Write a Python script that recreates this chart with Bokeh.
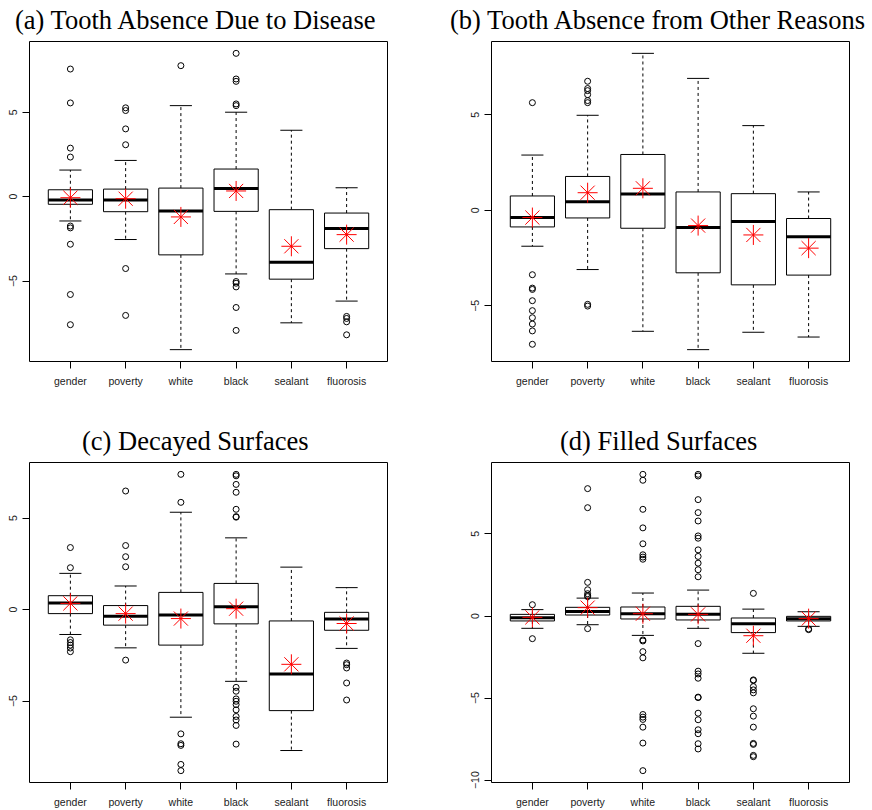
from bokeh.plotting import figure
from bokeh.models import Range1d, FixedTicker
from bokeh.layouts import column, row
from bokeh.embed import file_html
from bokeh.resources import INLINE

categories = ["gender", "poverty", "white", "black", "sealant", "fluorosis"]

# (a) Tooth Absence Due to Disease
a_title = "(a) Tooth Absence Due to Disease"
a_q1 = [-0.45, -0.89, -3.45, -0.87, -4.89, -3.08]
a_median = [-0.20, -0.20, -0.85, 0.49, -3.89, -1.89]
a_q3 = [0.41, 0.45, 0.51, 1.64, -0.77, -0.97]
a_whisker_lo = [-1.44, -2.54, -9.07, -4.58, -7.48, -6.19]
a_whisker_hi = [1.58, 2.15, 5.40, 5.01, 3.94, 0.53]
a_mean = [-0.06, -0.12, -1.20, 0.34, -2.94, -2.25]
a_outliers = [
    [7.57, 5.56, 2.88, 2.35, -1.74, -1.85, -2.82, -5.80, -7.59],
    [5.27, 5.11, 4.02, 3.08, -4.26, -7.04],
    [7.77],
    [8.50, 6.98, 6.84, 5.50, 5.40, -5.03, -5.13, -5.35, -6.57, -7.93],
    [],
    [-7.10, -7.22, -7.42, -8.19],
]
a_yticks = [-5, 0, 5]

# (b) Tooth Absence from Other Reasons
b_title = "(b) Tooth Absence from Other Reasons"
b_q1 = [-0.87, -0.40, -0.94, -3.27, -3.90, -3.39]
b_median = [-0.38, 0.45, 0.85, -0.90, -0.59, -1.39]
b_q3 = [0.75, 1.77, 2.92, 0.96, 0.87, -0.43]
b_whisker_lo = [-1.88, -3.10, -6.33, -7.29, -6.38, -6.63]
b_whisker_hi = [2.89, 4.97, 8.21, 6.90, 4.43, 0.96]
b_mean = [-0.38, 0.92, 1.15, -0.80, -1.29, -1.98]
b_outliers = [
    [5.63, -3.37, -4.07, -4.14, -4.73, -5.25, -5.62, -5.95, -6.31, -7.01],
    [6.75, 6.37, 6.26, 6.05, 5.74, 5.63, -4.92, -5.01],
    [],
    [],
    [],
    [],
]
b_yticks = [-5, 0, 5]

# (c) Decayed Surfaces
c_title = "(c) Decayed Surfaces"
c_q1 = [-0.22, -0.85, -1.94, -0.78, -5.52, -1.13]
c_median = [0.36, -0.36, -0.29, 0.16, -3.52, -0.51]
c_q3 = [0.76, 0.22, 0.94, 1.43, -0.62, -0.15]
c_whisker_lo = [-1.36, -2.09, -5.88, -3.92, -7.70, -2.12]
c_whisker_hi = [1.98, 1.29, 5.32, 3.92, 2.32, 1.20]
c_mean = [0.34, -0.22, -0.49, 0.05, -2.99, -0.76]
c_outliers = [
    [3.39, 2.29, -1.65, -1.80, -1.94, -2.10, -2.30],
    [6.48, 3.50, 2.89, 2.34, -2.76],
    [7.39, 5.86, -6.79, -7.33, -7.42, -8.46, -8.80],
    [7.39, 7.31, 6.84, 6.41, 5.48, 5.08, 5.05, -4.25, -4.46, -4.88, -5.01,
     -5.19, -5.48, -5.84, -6.03, -6.33, -7.35],
    [],
    [-2.92, -3.01, -3.19, -4.01, -4.94],
]
c_yticks = [-5, 0, 5]

# (d) Filled Surfaces
d_title = "(d) Filled Surfaces"
d_q1 = [-0.30, 0.06, -0.18, -0.24, -1.01, -0.30]
d_median = [-0.10, 0.28, 0.14, 0.10, -0.47, -0.16]
d_q3 = [0.10, 0.53, 0.55, 0.59, -0.12, -0.02]
d_whisker_lo = [-0.75, -0.53, -1.18, -0.75, -2.27, -0.63]
d_whisker_hi = [0.39, 1.09, 1.40, 1.58, 0.42, 0.26]
d_mean = [-0.08, 0.51, 0.14, 0.10, -1.20, -0.16]
d_outliers = [
    [0.69, -1.38],
    [7.76, 6.60, 2.05, 1.60, 1.36, 1.24, 1.18, -0.77],
    [8.63, 8.27, 6.50, 5.37, 4.40, 3.73, 3.59, 3.46, -1.46, -1.52, -2.17,
     -2.55, -6.00, -6.16, -6.30, -6.77, -7.74, -9.42],
    [8.63, 8.53, 7.09, 6.30, 5.79, 4.88, 4.74, 4.03, 3.63, 3.22, 2.82, 2.39,
     -1.68, -3.36, -3.53, -3.79, -4.94, -4.97, -5.92, -6.32, -6.93, -7.17,
     -7.78, -8.10],
    [1.38, -3.89, -3.93, -4.30, -4.50, -4.68, -5.65, -6.10, -6.77, -7.76,
     -7.82, -8.49, -8.57],
    [-0.79, -0.83],
]
d_yticks = [-10, -5, 0, 5]

FRAME_W = 358
FRAME_H = 320


def make_panel(title, q1, med, q3, wlo, whi, mean, outliers, yticks,
               left, right, bottom, title_offset):
    n = len(categories)
    xs = list(range(1, n + 1))
    allv = q1 + med + q3 + wlo + whi + mean + [v for o in outliers for v in o]
    lo, hi = min(allv), max(allv)
    pad = 0.04 * (hi - lo)
    xpad = 0.04 * n
    p = figure(frame_width=FRAME_W, frame_height=FRAME_H,
               output_backend="svg", toolbar_location=None,
               x_range=Range1d(0.5 - xpad, n + 0.5 + xpad),
               y_range=Range1d(lo - pad, hi + pad),
               min_border_left=left, min_border_right=right,
               min_border_top=0, min_border_bottom=bottom,
               title=title)
    p.title.align = "left"
    p.title.offset = title_offset
    p.title.vertical_align = "top"
    p.title.standoff = 9
    p.title.text_font = "Liberation Serif"
    p.title.text_font_size = "26.5px"
    p.title.text_font_style = "normal"
    p.title.text_color = "black"

    p.background_fill_color = "white"
    p.border_fill_color = "white"
    p.grid.visible = False
    p.outline_line_color = "black"
    p.outline_line_width = 1
    p.outline_line_alpha = 1.0

    # whiskers
    p.segment(x0=xs, y0=q3, x1=xs, y1=whi, line_color="black",
              line_width=1, line_dash="3 3")
    p.segment(x0=xs, y0=q1, x1=xs, y1=wlo, line_color="black",
              line_width=1, line_dash="3 3")
    # staples
    sx0 = [x - 0.2 for x in xs]
    sx1 = [x + 0.2 for x in xs]
    p.segment(x0=sx0, y0=whi, x1=sx1, y1=whi, line_color="black", line_width=1)
    p.segment(x0=sx0, y0=wlo, x1=sx1, y1=wlo, line_color="black", line_width=1)
    # boxes
    p.vbar(x=xs, width=0.8, bottom=q1, top=q3, fill_color="white",
           line_color="black", line_width=1)
    # medians
    mx0 = [x - 0.4 for x in xs]
    mx1 = [x + 0.4 for x in xs]
    p.segment(x0=mx0, y0=med, x1=mx1, y1=med, line_color="black",
              line_width=3)
    # outliers
    ox = [xs[i] for i, o in enumerate(outliers) for v in o]
    oy = [v for o in outliers for v in o]
    p.scatter(ox, oy, marker="circle", size=6, fill_color=None,
              line_color="black", line_width=1)
    # means
    p.scatter(xs, mean, marker="asterisk", size=20, line_color="red",
              line_width=1)

    # axes
    p.xaxis.ticker = FixedTicker(ticks=xs)
    p.xaxis.major_label_overrides = {x: c for x, c in zip(xs, categories)}
    p.yaxis.ticker = FixedTicker(ticks=yticks)
    p.yaxis.major_label_overrides = {
        t: (("\u2212" + str(abs(t))) if t < 0 else str(t)) for t in yticks}
    p.yaxis.major_label_orientation = "vertical"
    for ax in (p.xaxis, p.yaxis):
        ax.axis_line_color = None
        ax.major_tick_out = 7
        ax.major_tick_in = 0
        ax.minor_tick_out = 0
        ax.minor_tick_in = 0
        ax.major_tick_line_color = "black"
        ax.major_label_text_font = "Liberation Sans"
        ax.major_label_text_font_size = "10.5px"
        ax.major_label_text_color = "#222222"
    p.xaxis.major_label_standoff = 6
    p.yaxis.major_label_standoff = 5
    return p


pa = make_panel(a_title, a_q1, a_median, a_q3, a_whisker_lo, a_whisker_hi,
                a_mean, a_outliers, a_yticks, 29, 49, 60, -14.5)
pb = make_panel(b_title, b_q1, b_median, b_q3, b_whisker_lo, b_whisker_hi,
                b_mean, b_outliers, b_yticks, 55, 21, 60, -41.5)
pc = make_panel(c_title, c_q1, c_median, c_q3, c_whisker_lo, c_whisker_hi,
                c_mean, c_outliers, c_yticks, 29, 49, 26, 52.5)
pd = make_panel(d_title, d_q1, d_median, d_q3, d_whisker_lo, d_whisker_hi,
                d_mean, d_outliers, d_yticks, 55, 21, 26, 68.5)

layout = column(row(pa, pb), row(pc, pd))
open("out.html", "w").write(file_html(layout, INLINE))
